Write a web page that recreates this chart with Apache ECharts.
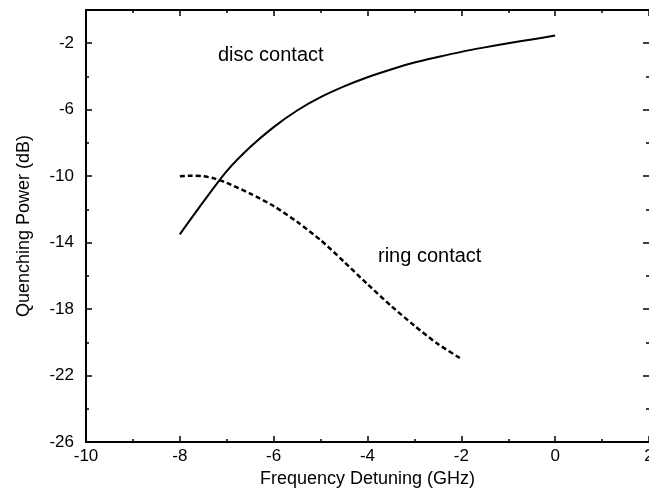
<!DOCTYPE html>
<html>
<head>
<meta charset="utf-8">
<script src="https://cdn.jsdelivr.net/npm/echarts@6/dist/echarts.min.js"></script>
<style>
  html, body { margin: 0; padding: 0; background: #fff; overflow: hidden; }
  #chart { width: 649px; height: 493px; }
</style>
</head>
<body>
<div id="chart"></div>
<script>
// Quenching power versus frequency detuning for two contact geometries
var discDetuning = [-8, -7.5, -7, -6.5, -6, -5.5, -5, -4.5, -4, -3.5, -3, -2.5, -2, -1.5, -1, -0.5, 0];
var discPower    = [-13.5, -11.55, -9.7, -8.25, -7.05, -6.05, -5.25, -4.6, -4.05, -3.58, -3.16, -2.83, -2.52, -2.25, -2.0, -1.77, -1.54];

var ringDetuning = [-8, -7.75, -7.5, -7.25, -7, -6.5, -6, -5.5, -5, -4.5, -4, -3.5, -3, -2.5, -2];
var ringPower    = [-10.0, -9.97, -10.0, -10.15, -10.4, -11.05, -11.8, -12.75, -13.85, -15.15, -16.5, -17.8, -19.0, -20.1, -21.0];

var xTicks = { min: -10, max: 2, step: 2 };
var yTicks = { min: -26, max: 0, step: 4 };

var FONT = 'Liberation Sans, Arial, Helvetica, sans-serif';

function pairs(xs, ys) {
  return xs.map(function (x, i) { return [x, ys[i]]; });
}

var chart = echarts.init(document.getElementById('chart'), null, { renderer: 'canvas' });

var frameLine = { show: true, onZero: false, lineStyle: { color: '#000', width: 2 } };
var noLine = { show: false, onZero: false };
var majorTick = { show: true, inside: true, length: 6, lineStyle: { color: '#000', width: 1.5 } };
var shortTick = { show: true, inside: true, length: 3, lineStyle: { color: '#000', width: 1.5 } };

chart.setOption({
  animation: false,
  backgroundColor: '#fff',
  grid: { left: 86, right: 0, top: 10, bottom: 51, containLabel: false, outerBoundsMode: 'none' },
  xAxis: [
    {
      type: 'value', position: 'bottom',
      min: xTicks.min, max: xTicks.max, interval: xTicks.step,
      name: 'Frequency Detuning (GHz)', nameLocation: 'middle', nameGap: 28,
      nameTextStyle: { color: '#000', fontSize: 18, fontFamily: FONT },
      axisLine: frameLine,
      axisTick: majorTick,
      minorTick: { show: true, splitNumber: 2, length: 3, lineStyle: { color: '#000', width: 1.5 } },
      axisLabel: { color: '#000', fontSize: 17, fontFamily: FONT, margin: 6 },
      splitLine: { show: false }
    },
    {
      type: 'value', position: 'top',
      min: xTicks.min, max: xTicks.max, interval: xTicks.step,
      axisLine: frameLine,
      axisTick: majorTick,
      minorTick: { show: true, splitNumber: 2, length: 3, lineStyle: { color: '#000', width: 1.5 } },
      axisLabel: { show: false },
      splitLine: { show: false }
    }
  ],
  yAxis: [
    {
      type: 'value', position: 'left',
      min: yTicks.min, max: yTicks.max, interval: yTicks.step,
      name: 'Quenching Power (dB)', nameLocation: 'middle', nameGap: 53, nameRotate: 90,
      nameTextStyle: { color: '#000', fontSize: 18, fontFamily: FONT },
      axisLine: frameLine,
      axisTick: majorTick,
      axisLabel: { color: '#000', fontSize: 17, fontFamily: FONT, margin: 12, showMaxLabel: false },
      splitLine: { show: false }
    },
    {
      type: 'value', position: 'left',
      min: yTicks.min, max: yTicks.max, interval: yTicks.step / 2,
      axisLine: noLine,
      axisTick: shortTick,
      axisLabel: { show: false },
      splitLine: { show: false }
    },
    {
      type: 'value', position: 'right',
      min: yTicks.min, max: yTicks.max, interval: yTicks.step,
      axisLine: noLine,
      axisTick: majorTick,
      axisLabel: { show: false },
      splitLine: { show: false }
    },
    {
      type: 'value', position: 'right',
      min: yTicks.min, max: yTicks.max, interval: yTicks.step / 2,
      axisLine: noLine,
      axisTick: shortTick,
      axisLabel: { show: false },
      splitLine: { show: false }
    }
  ],
  series: [
    {
      name: 'disc contact', type: 'line', xAxisIndex: 0, yAxisIndex: 0,
      data: pairs(discDetuning, discPower),
      smooth: 0.25, showSymbol: false, symbol: 'none',
      lineStyle: { color: '#000', width: 2 }
    },
    {
      name: 'ring contact', type: 'line', xAxisIndex: 0, yAxisIndex: 0,
      data: pairs(ringDetuning, ringPower),
      smooth: 0.25, showSymbol: false, symbol: 'none',
      lineStyle: { color: '#000', width: 2.5, type: [5, 3] }
    }
  ],
  graphic: [
    {
      type: 'text', left: 218, top: 45,
      style: { text: 'disc contact', fill: '#000', fontSize: 20, fontFamily: FONT }
    },
    {
      type: 'text', left: 378, top: 246,
      style: { text: 'ring contact', fill: '#000', fontSize: 20, fontFamily: FONT }
    }
  ]
});
</script>
</body>
</html>
